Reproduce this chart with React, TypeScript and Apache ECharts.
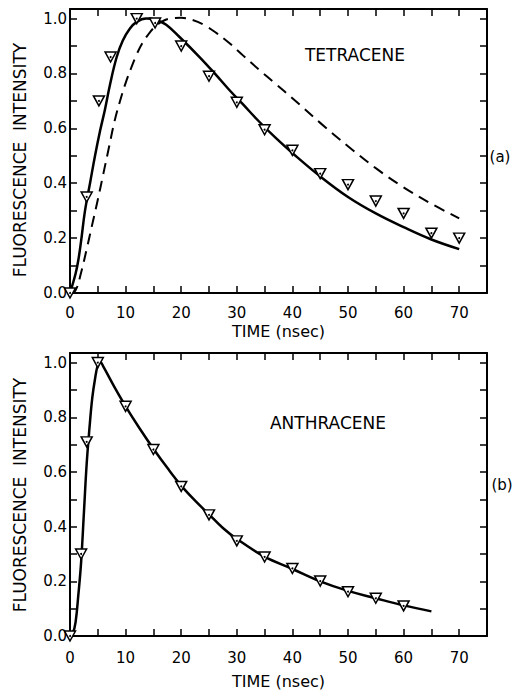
import React, { useEffect, useRef } from "react";
import * as echarts from "echarts";

// ---- Panel (a): Tetracene ----
const tetraObsT = [0, 3, 5.2, 7.3, 12, 15.3, 20, 25, 30, 35, 40, 45, 50, 55, 60, 65, 70];
const tetraObsY = [0, 0.35, 0.70, 0.86, 1.0, 0.984, 0.90, 0.79, 0.695, 0.595, 0.52, 0.435, 0.395, 0.335, 0.29, 0.218, 0.20];

const tetraSolidT = [0, 1, 1.5, 2, 2.7, 3.6, 4.5, 5.4, 6.3, 7.2, 8.4, 9.5, 10.75, 12, 13.7, 15.5, 17.3, 19.7, 23.3, 26.3, 28.7, 31, 34, 37, 40, 45, 50, 55, 60, 65, 70];
const tetraSolidY = [0, 0.07, 0.12, 0.19, 0.30, 0.40, 0.50, 0.59, 0.67, 0.76, 0.86, 0.92, 0.963, 0.988, 1.0, 0.995, 0.978, 0.933, 0.86, 0.794, 0.739, 0.69, 0.625, 0.565, 0.51, 0.425, 0.35, 0.29, 0.24, 0.195, 0.16];

const tetraDashT = [0, 1, 2, 3, 4, 5, 6, 7, 8, 9, 10, 11, 12, 13, 14, 15, 16, 17, 18, 20, 22, 24, 26.3, 28.7, 31.1, 34.1, 37, 40, 45, 50, 55, 60, 65, 70];
const tetraDashY = [0, 0.01, 0.075, 0.16, 0.25, 0.34, 0.435, 0.53, 0.625, 0.70, 0.765, 0.82, 0.87, 0.91, 0.94, 0.965, 0.982, 0.994, 1.0, 1.003, 0.995, 0.978, 0.948, 0.91, 0.866, 0.812, 0.762, 0.71, 0.62, 0.535, 0.455, 0.385, 0.325, 0.272];

// ---- Panel (b): Anthracene ----
const anthObsT = [0, 2, 3, 5, 10, 15, 20, 25, 30, 35, 40, 45, 50, 55, 60];
const anthObsY = [0, 0.30, 0.71, 1.0, 0.84, 0.682, 0.547, 0.443, 0.348, 0.289, 0.247, 0.201, 0.162, 0.138, 0.11];

const anthFitT = [0, 0.5, 1, 1.5, 2, 2.5, 3, 3.5, 4, 4.5, 5, 5.5, 6, 8, 10, 12.5, 15, 17.5, 20, 22.5, 25, 27.5, 30, 35, 40, 45, 50, 55, 60, 65];
const anthFitY = [0, 0.01, 0.05, 0.15, 0.27, 0.45, 0.63, 0.76, 0.87, 0.94, 0.99, 1.0, 0.985, 0.91, 0.84, 0.76, 0.685, 0.615, 0.55, 0.495, 0.445, 0.395, 0.355, 0.29, 0.245, 0.2, 0.165, 0.138, 0.112, 0.09];

const xTicks = { min: 0, max: 75, interval: 5 };
const yTicks = { min: 0, max: 1.035, interval: 0.1 };

const FONT = "DejaVu Sans";

const zip = (a: number[], b: number[]) => a.map((v, i) => [v, b[i]]);

function xFmt(v: number) {
  return Math.abs(v % 10) < 1e-6 && v <= 70 ? String(v) : "";
}
function yFmt(v: number) {
  const k = Math.round(v * 10);
  return Math.abs(v * 10 - k) < 1e-6 && k % 2 === 0 && v <= 1.0001 ? v.toFixed(1) : "";
}

function buildOption() {
  const axisLine = { show: true, onZero: false, lineStyle: { color: "#000", width: 2 } };
  const tick = { show: true, inside: true, length: 7, lineStyle: { color: "#000", width: 1.5 } };
  const xAxis = (grid: number, pos: "bottom" | "top", labelMargin: number, nameGap: number) => ({
    type: "value",
    gridIndex: grid,
    position: pos,
    ...xTicks,
    axisLine,
    axisTick: tick,
    splitLine: { show: false },
    axisLabel:
      pos === "bottom"
        ? { show: true, formatter: xFmt, color: "#000", fontFamily: FONT, fontSize: 15, margin: labelMargin }
        : { show: false },
    name: pos === "bottom" ? "TIME (nsec)" : "",
    nameLocation: "middle",
    nameGap,
    nameTextStyle: { color: "#000", fontFamily: FONT, fontSize: 16 },
  });
  const yAxis = (grid: number, pos: "left" | "right") => ({
    type: "value",
    gridIndex: grid,
    position: pos,
    ...yTicks,
    axisLine,
    axisTick: tick,
    splitLine: { show: false },
    axisLabel:
      pos === "left"
        ? { show: true, formatter: yFmt, color: "#000", fontFamily: FONT, fontSize: 15, margin: 3, showMaxLabel: false }
        : { show: false },
  });
  const tri = (xi: number, yi: number, data: number[][]) => [
    {
      type: "scatter",
      xAxisIndex: xi,
      yAxisIndex: yi,
      data,
      symbol: "triangle",
      symbolRotate: 180,
      symbolSize: [11, 10],
      itemStyle: { color: "#fff", borderColor: "#000", borderWidth: 1.5, opacity: 1 },
      z: 5,
    },
    {
      type: "scatter",
      xAxisIndex: xi,
      yAxisIndex: yi,
      data,
      symbol: "circle",
      symbolSize: 2,
      itemStyle: { color: "#000", opacity: 1 },
      z: 6,
    },
  ];
  const txt = (text: string, x: number, y: number, size: number, rot = 0) => ({
    type: "text",
    x,
    y,
    rotation: rot,
    style: { text, fill: "#000", font: `${size}px '${FONT}'`, align: "center", verticalAlign: "middle", textAlign: "center", textVerticalAlign: "middle" },
  });
  return {
    animation: false,
    backgroundColor: "#fff",
    grid: [
      { left: 70, top: 9, width: 417, height: 284 },
      { left: 70, top: 353, width: 417, height: 283 },
    ],
    xAxis: [xAxis(0, "bottom", 12, 30), xAxis(0, "top", 0, 0), xAxis(1, "bottom", 14, 37), xAxis(1, "top", 0, 0)],
    yAxis: [yAxis(0, "left"), yAxis(0, "right"), yAxis(1, "left"), yAxis(1, "right")],
    series: [
      {
        type: "line",
        name: "Tetracene calc",
        xAxisIndex: 0,
        yAxisIndex: 0,
        data: zip(tetraSolidT, tetraSolidY),
        smooth: 0.4,
        showSymbol: false,
        lineStyle: { color: "#000", width: 2.5 },
      },
      {
        type: "line",
        name: "Tetracene dashed",
        xAxisIndex: 0,
        yAxisIndex: 0,
        data: zip(tetraDashT, tetraDashY),
        smooth: 0.4,
        showSymbol: false,
        lineStyle: { color: "#000", width: 2, type: [11, 7] },
      },
      ...tri(0, 0, zip(tetraObsT, tetraObsY)),
      {
        type: "line",
        name: "Anthracene calc",
        xAxisIndex: 2,
        yAxisIndex: 2,
        data: zip(anthFitT, anthFitY),
        smooth: 0.4,
        showSymbol: false,
        lineStyle: { color: "#000", width: 2.5 },
      },
      ...tri(2, 2, zip(anthObsT, anthObsY)),
    ],
    graphic: [
      txt("FLUORESCENCE  INTENSITY", 20, 160, 17, Math.PI / 2),
      txt("FLUORESCENCE  INTENSITY", 20, 495, 17, Math.PI / 2),
      txt("TETRACENE", 355, 55, 17),
      txt("ANTHRACENE", 328, 423, 17),
      txt("(a)", 500, 157, 15),
      txt("(b)", 502, 485, 15),
    ],
  };
}

export default function App() {
  const ref = useRef<HTMLDivElement>(null);
  useEffect(() => {
    if (!ref.current) return;
    const chart = echarts.init(ref.current, undefined, { renderer: "svg" });
    chart.setOption(buildOption() as any);
    return () => chart.dispose();
  }, []);
  return <div ref={ref} style={{ position: "absolute", left: 0, top: 0, width: 515, height: 690, background: "#fff" }} />;
}
